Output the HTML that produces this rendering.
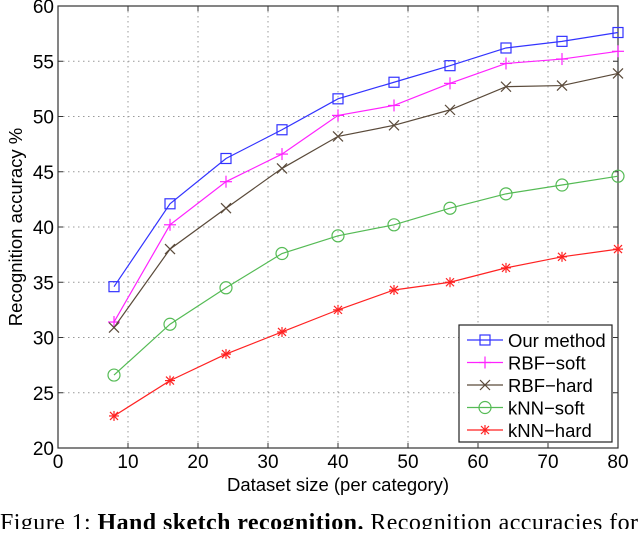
<!DOCTYPE html>
<html><head><meta charset="utf-8"><style>
body{margin:0;background:#fff;width:640px;height:529px;overflow:hidden;font-family:"Liberation Sans",sans-serif}
svg text{font-family:"Liberation Sans",sans-serif}
</style></head><body>
<svg id="chart" width="640" height="529" xmlns="http://www.w3.org/2000/svg">
<g id="grid"></g><g id="axes"></g><g id="series"></g><g id="legend"></g>
<text transform="translate(22,227) rotate(-90)" text-anchor="middle" font-size="18.5">Recognition accuracy %</text>
<text x="338" y="491" text-anchor="middle" font-size="18.5">Dataset size (per category)</text>
<text x="0" y="530" font-size="24" textLength="638" lengthAdjust="spacing" style="font-family:'Liberation Serif',serif">Figure 1:  <tspan font-weight="bold">Hand sketch recognition.</tspan> Recognition accuracies for</text>
</svg>
<script>
const xValues=[8,16,24,32,40,48,56,64,72,80];
const ourMethod=[34.6,42.1,46.2,48.8,51.6,53.1,54.6,56.2,56.8,57.6];
const rbfSoft=[31.4,40.2,44.1,46.6,50.1,51.0,53.0,54.8,55.2,55.9];
const rbfHard=[30.9,38.0,41.7,45.3,48.2,49.2,50.6,52.7,52.8,53.9];
const knnSoft=[26.6,31.2,34.5,37.6,39.2,40.2,41.7,43.0,43.8,44.6];
const knnHard=[22.9,26.1,28.5,30.5,32.5,34.3,35.0,36.3,37.3,38.0];
const xTicks=[0,10,20,30,40,50,60,70,80];
const yTicks=[20,25,30,35,40,45,50,55,60];
const seriesNames=["Our method","RBF\u2212soft","RBF\u2212hard","kNN\u2212soft","kNN\u2212hard"];

const L=58,R=618,T=6,B=448;
const sx=v=>L+(v-0)/(80-0)*(R-L);
const sy=v=>B-(v-20)/(60-20)*(B-T);
const NS="http://www.w3.org/2000/svg";
function mk(tag,attrs,parent){const e=document.createElementNS(NS,tag);for(const k in attrs)e.setAttribute(k,attrs[k]);parent.appendChild(e);return e;}
const grid=document.getElementById('grid'),axes=document.getElementById('axes'),ser=document.getElementById('series'),leg=document.getElementById('legend');

xTicks.forEach(t=>{
  if(t>0&&t<80){const g=mk('line',{x1:sx(t),x2:sx(t),y1:T,y2:B,stroke:'#999','stroke-dasharray':'1.5,3.5'},grid);
  
  }
  const tk=mk('line',{x1:sx(t),x2:sx(t),y1:B,y2:B-5,stroke:'#333'},axes);
  
  
  const tk2=mk('line',{x1:sx(t),x2:sx(t),y1:T,y2:T+5,stroke:'#333'},axes);
  
  
  const lb=mk('text',{x:sx(t),y:B+20,'text-anchor':'middle','font-size':19},axes);lb.textContent=t;
  
  
});
yTicks.forEach(t=>{
  if(t>20&&t<60){const g=mk('line',{x1:L,x2:R,y1:sy(t),y2:sy(t),stroke:'#999','stroke-dasharray':'1.5,3.5'},grid);
  
  }
  const tk=mk('line',{x1:L,x2:L+5,y1:sy(t),y2:sy(t),stroke:'#333'},axes);
  
  
  const tk2=mk('line',{x1:R,x2:R-5,y1:sy(t),y2:sy(t),stroke:'#333'},axes);
  
  
  const lb=mk('text',{x:L-4,y:sy(t)+7,'text-anchor':'end','font-size':19},axes);lb.textContent=t;
  
  
});
const frame=mk('rect',{x:L,y:T,width:R-L,height:B-T,fill:'none',stroke:'#333','stroke-width':1.2},axes);



function marker(type,x,y,c,p){
  const g=mk('g',{stroke:c,fill:'none','stroke-width':1.2},p);
  if(type==='sq')mk('rect',{x:x-5,y:y-5,width:10,height:10},g);
  if(type==='plus'){mk('line',{x1:x-6,x2:x+6,y1:y,y2:y},g);mk('line',{x1:x,x2:x,y1:y-6,y2:y+6},g);}
  if(type==='x'){mk('line',{x1:x-5,x2:x+5,y1:y-5,y2:y+5},g);mk('line',{x1:x-5,x2:x+5,y1:y+5,y2:y-5},g);}
  if(type==='o')mk('circle',{cx:x,cy:y,r:6},g);
  if(type==='star'){mk('line',{x1:x-5,x2:x+5,y1:y,y2:y},g);mk('line',{x1:x,x2:x,y1:y-5,y2:y+5},g);mk('line',{x1:x-4,x2:x+4,y1:y-4,y2:y+4},g);mk('line',{x1:x-4,x2:x+4,y1:y+4,y2:y-4},g);}
  return g;
}
const allSeries=[[ourMethod,'#3333ff','sq','our-method'],[rbfSoft,'#ff22ff','plus','rbf-soft'],[rbfHard,'#5a4a3a','x','rbf-hard'],[knnSoft,'#55bb55','o','knn-soft'],[knnHard,'#ff2222','star','knn-hard']];
allSeries.forEach(([vals,c,m,n])=>{
  const pl=mk('polyline',{points:vals.map((v,i)=>sx(xValues[i])+','+sy(v)).join(' '),fill:'none',stroke:c,'stroke-width':1.2},ser);
  
  
  vals.forEach((v,i)=>{const g=marker(m,sx(xValues[i]),sy(v),c,ser);
    
    });
});
const lb=mk('rect',{x:459,y:325,width:153,height:117,fill:'#fff',stroke:'#222','stroke-width':1.2},leg);


allSeries.forEach(([vals,c,m,n],i)=>{
  const y=340+i*22.5;
  const ln=mk('line',{x1:467,x2:503,y1:y,y2:y,stroke:c,'stroke-width':1.2},leg);
  
  
  const g=marker(m,485,y,c,leg);
  
  
  const t=mk('text',{x:508,y:y+7,'font-size':18.5},leg);t.textContent=seriesNames[i];
  
  
});
</script>
</body></html>
